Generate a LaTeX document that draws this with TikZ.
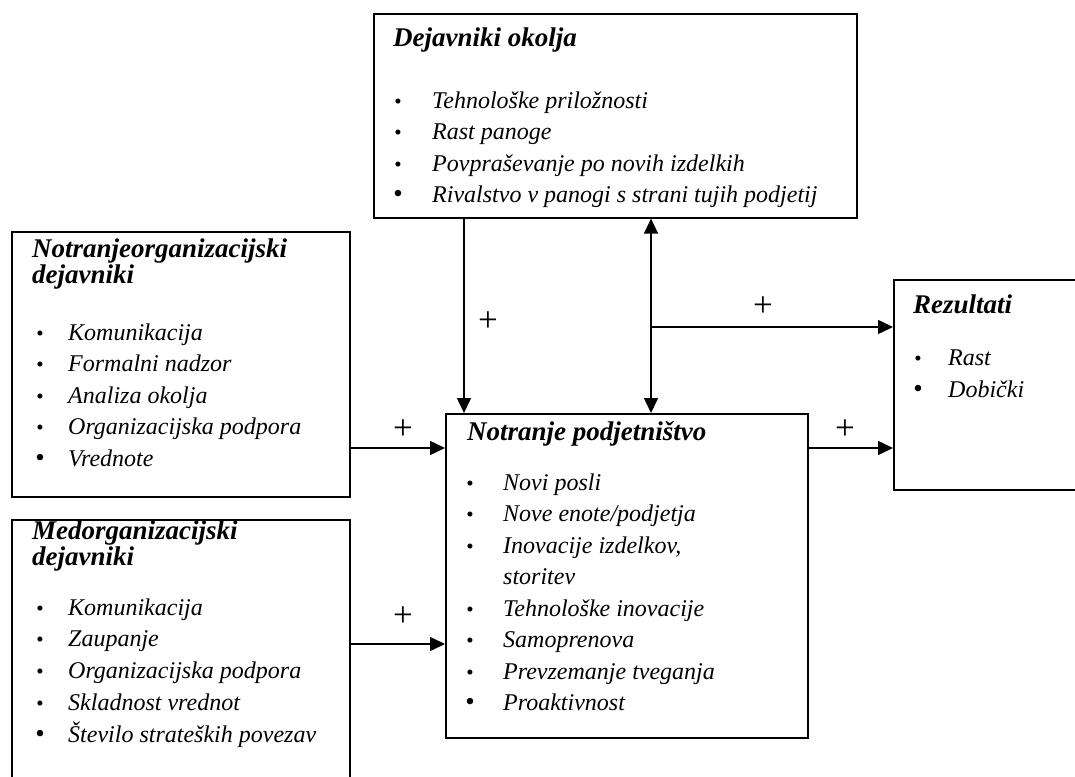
\documentclass[tikz,border=0pt]{standalone}
\usepackage{fontspec}
\setmainfont{Liberation Serif}
\usetikzlibrary{arrows.meta}
\begin{document}
\begin{tikzpicture}[x=1pt,y=-1pt,
  box/.style={draw, line width=1.6pt, rectangle, inner sep=0pt, anchor=north west},
  title/.style={anchor=base west, inner sep=0pt, font=\fontsize{27}{27}\selectfont\bfseries\itshape},
  title2/.style={anchor=base west, inner sep=0pt, align=left, font=\fontsize{27}{#1}\selectfont\bfseries\itshape},
  item/.style={anchor=base west, inner sep=0pt, font=\fontsize{24}{30}\selectfont\itshape},
  dot/.style={anchor=base, inner sep=0pt, font=\fontsize{21}{20}\selectfont},
  bigdot/.style={anchor=base, inner sep=0pt, font=\fontsize{27}{20}\selectfont},
  plus/.style={inner sep=0pt, font=\fontsize{35}{35}\selectfont},
  tip/.tip={Triangle[length=15pt,width=14pt]},
  arr/.style={line width=1.5pt, -tip},
  darr/.style={line width=1.5pt, tip-tip}
]
\useasboundingbox (0,0) rectangle (1075,776);
\clip (0,0) rectangle (1075,776);

% boxes
\node[box, minimum width=483pt, minimum height=204pt] (env) at (373,13) {};
\node[box, minimum width=338pt, minimum height=265pt] (intorg) at (11,231) {};
\node[box, minimum width=338pt, minimum height=290pt] (interorg) at (11,519) {};
\node[box, minimum width=362pt, minimum height=324pt] (ent) at (445,413) {};
\node[box, minimum width=230pt, minimum height=210pt] (res) at (893,279) {};

% environment factors
\node[title] (envT) at (393,47) {Dejavniki okolja};
\foreach \t [count=\i] in {Tehnološke priložnosti, Rast panoge, Povpraševanje po novih izdelkih}{
  \node[dot] (envD\i) at (398,{108+31.5*(\i-1)}) {•};
  \node[item] (envI\i) at (432,{108+31.5*(\i-1)}) {\t};
}
\node[bigdot] (envD4) at (398,202.5) {•};
\node[item] (envI4) at (432,202.5) {Rivalstvo v panogi s strani tujih podjetij};

% intra-organisational factors (base anchor sits on the last title line)
\node[title2=24] (intT) at (32,283) {Notranjeorganizacijski\\dejavniki};
\foreach \t [count=\i] in {Komunikacija, Formalni nadzor, Analiza okolja, Organizacijska podpora}{
  \node[dot] (intD\i) at (40,{340+31.5*(\i-1)}) {•};
  \node[item] (intI\i) at (68,{340+31.5*(\i-1)}) {\t};
}
\node[bigdot] (intD5) at (40,466) {•};
\node[item] (intI5) at (68,466) {Vrednote};

% inter-organisational factors
\node[title2=21] (extT) at (32,565) {Medorganizacijski\\dejavniki};
\foreach \t [count=\i] in {Komunikacija, Zaupanje, Organizacijska podpora, Skladnost vrednot}{
  \node[dot] (extD\i) at (40,{615+31.7*(\i-1)}) {•};
  \node[item] (extI\i) at (68,{615+31.7*(\i-1)}) {\t};
}
\node[bigdot] (extD5) at (40,742) {•};
\node[item] (extI5) at (68,742) {Število strateških povezav};

% corporate entrepreneurship
\node[title] (entT) at (467,440) {Notranje podjetništvo};
\node[dot] (entD1) at (470,490) {•};
\node[item] (entI1) at (503,490) {Novi posli};
\node[dot] (entD2) at (470,521.5) {•};
\node[item] (entI2) at (503,521.5) {Nove enote/podjetja};
\node[dot] (entD3) at (470,553) {•};
\node[item] (entI3) at (503,553) {Inovacije izdelkov,};
\node[item] (entI3b) at (503,584.5) {storitev};
\node[dot] (entD4) at (470,616) {•};
\node[item] (entI4) at (503,616) {Tehnološke inovacije};
\node[dot] (entD5) at (470,647.5) {•};
\node[item] (entI5) at (503,647.5) {Samoprenova};
\node[dot] (entD6) at (470,679) {•};
\node[item] (entI6) at (503,679) {Prevzemanje tveganja};
\node[bigdot] (entD7) at (470,710.5) {•};
\node[item] (entI7) at (503,710.5) {Proaktivnost};

% results
\node[title] (resT) at (913,313) {Rezultati};
\node[dot] (resD1) at (918,365) {•};
\node[item] (resI1) at (948,365) {Rast};
\node[bigdot] (resD2) at (918,397) {•};
\node[item] (resI2) at (948,397) {Dobički};

% connectors
\coordinate (colA) at (464,0);
\coordinate (colB) at (651,0);
\coordinate (rowA) at (0,448);
\coordinate (rowB) at (0,644);
\coordinate (rowC) at (0,327);
\coordinate (split) at (colB |- rowC);

\draw[arr] (colA |- env.south) -- (colA |- ent.north);
\draw[darr] (colB |- env.south) -- (colB |- ent.north);
\draw[arr] (split) -- (res.west |- rowC);
\draw[arr] (intorg.east |- rowA) -- (ent.west |- rowA);
\draw[arr] (interorg.east |- rowB) -- (ent.west |- rowB);
\draw[arr] (ent.east |- rowA) -- (res.west |- rowA);

% signs
\node[plus] (p1) at (488,322) {+};
\node[plus] (p2) at (763,307) {+};
\node[plus] (p3) at (403,430) {+};
\node[plus] (p4) at (403,617) {+};
\node[plus] (p5) at (845,430) {+};
\end{tikzpicture}
\end{document}
